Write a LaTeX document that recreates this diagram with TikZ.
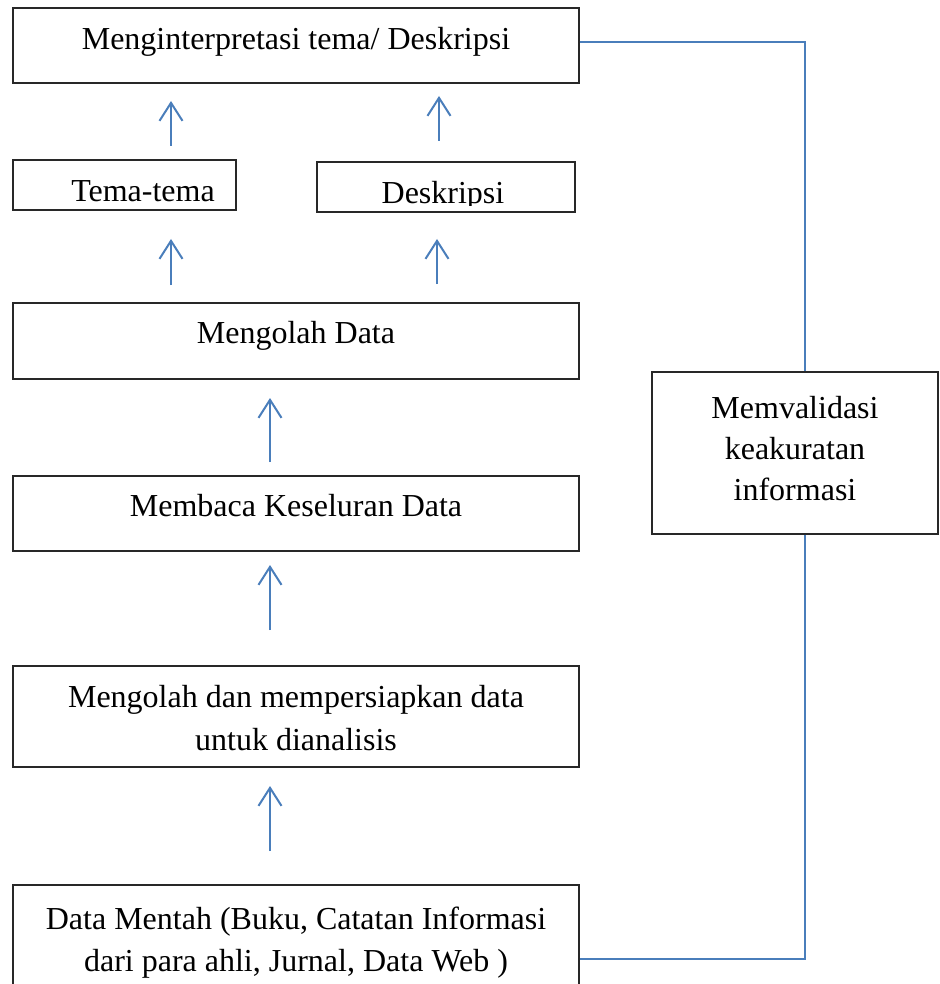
\documentclass[tikz,border=0pt]{standalone}
\usepackage{fontspec}
\setmainfont{Liberation Serif}
\usetikzlibrary{arrows.meta}
\definecolor{lineblue}{RGB}{74,126,187}
\definecolor{boxgray}{RGB}{40,40,40}
\begin{document}
\begin{tikzpicture}[x=1pt,y=-1pt,
  box/.style={draw=boxgray,line width=1.3pt,rectangle,inner sep=0pt},
  lbl/.style={font=\fontsize{32}{41.5}\selectfont,align=center,inner sep=0pt,anchor=base},
  conn/.style={draw=lineblue,line width=2pt},
  arr/.style={draw=lineblue,line width=2pt,-{Straight Barb[length=18pt,width=23pt,line width=2pt]}}]
\clip (0,0) rectangle (939,984);
\fill[white] (0,0) rectangle (939,984);
% boxes
\node[box,minimum width=566pt,minimum height=75pt] (top) at (296,45.5) {};
\node[box,minimum width=223pt,minimum height=50pt] (tema) at (124.5,185) {};
\node[box,minimum width=258pt,minimum height=50pt] (desk) at (446,187) {};
\node[box,minimum width=566pt,minimum height=76pt] (olah) at (296,341) {};
\node[box,minimum width=566pt,minimum height=75pt] (baca) at (296,513.5) {};
\node[box,minimum width=566pt,minimum height=101pt] (siap) at (296,716.5) {};
\node[box,minimum width=566pt,minimum height=130pt] (mentah) at (296,950) {};
\node[box,minimum width=286pt,minimum height=162pt] (valid) at (795,453) {};
% texts
\node[lbl] (ttop) at (296,50) {Menginterpretasi tema/ Deskripsi};
\node[lbl] (ttema) at (143,202) {Tema-tema};
\begin{scope}
\clip (desk.north west) rectangle ([yshift=7pt]desk.south east);
\node[lbl] (tdesk) at (443,204) {Deskripsi};
\end{scope}
\node[lbl] (tolah) at (296,343) {Mengolah Data};
\node[lbl] (tbaca) at (296,516) {Membaca Keseluran Data};
\node[lbl] (tsiap1) at (296,707) {Mengolah dan mempersiapkan data};
\node[lbl] (tsiap2) at (296,750) {untuk dianalisis};
\node[lbl] (tment1) at (296,929) {Data Mentah (Buku, Catatan Informasi};
\node[lbl] (tment2) at (296,971) {dari para ahli, Jurnal, Data Web )};
\node[lbl] (tval1) at (795,418) {Memvalidasi};
\node[lbl] (tval2) at (795,459) {keakuratan};
\node[lbl] (tval3) at (795,500) {informasi};
% arrows
\coordinate (a1s) at (171,146); \coordinate (a1e) at (171,101);
\coordinate (a2s) at (439,141); \coordinate (a2e) at (439,96);
\coordinate (a3s) at (171,285); \coordinate (a3e) at (171,239);
\coordinate (a4s) at (437,284); \coordinate (a4e) at (437,239);
\coordinate (a5s) at (270,462); \coordinate (a5e) at (270,398);
\coordinate (a6s) at (270,630); \coordinate (a6e) at (270,565);
\coordinate (a7s) at (270,851); \coordinate (a7e) at (270,786);
\foreach \i in {1,...,7} {\draw[arr] (a\i s) -- (a\i e);}
% connectors
\draw[conn] (top.east |- 0,42) -- (805,42) -- (valid.north -| 805,0);
\draw[conn] (valid.south -| 805,0) -- (805,959) -- (mentah.east |- 0,959);
\end{tikzpicture}
\end{document}
